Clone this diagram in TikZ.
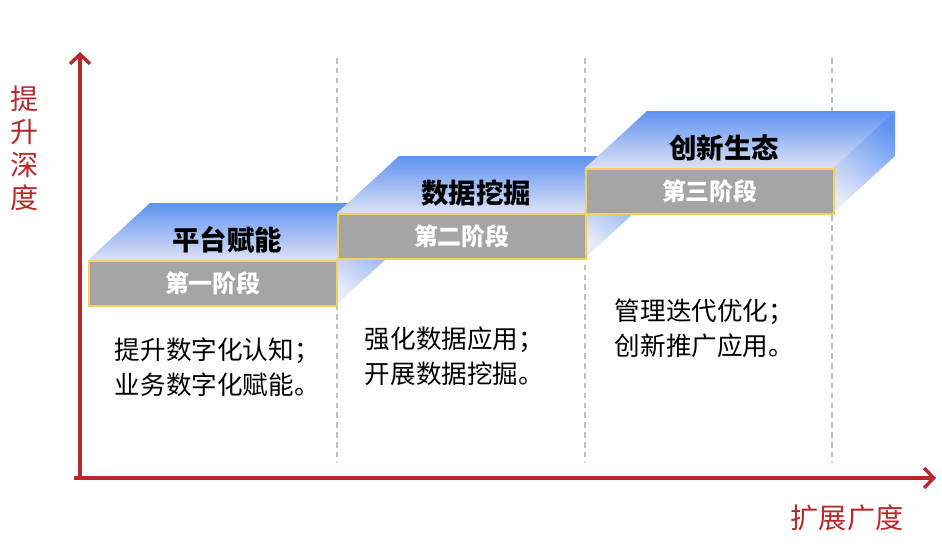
\documentclass[tikz,border=0pt]{standalone}
\usepackage{fontspec}
\setmainfont{Noto Sans CJK SC}
\usetikzlibrary{arrows.meta}
\definecolor{axisred}{HTML}{B8272A}
\definecolor{topblue}{HTML}{5F92F2}
\definecolor{paleblue}{HTML}{DCE2F4}
\definecolor{stagegray}{HTML}{A5A5A5}
\definecolor{stagegold}{HTML}{F1D35A}
\begin{document}
\begin{tikzpicture}[x=0.025cm,y=-0.025cm,
  axis/.style={axisred,line width=2.4pt,-{Straight Barb[length=2.4mm,width=5mm]}},
  guide/.style={black!25,dash pattern=on 4pt off 3pt,line width=1pt},
  stagebox/.style={fill=stagegray,draw=stagegold,line width=1.2pt,anchor=north west,
    minimum width=6.2cm,minimum height=1.12cm,inner sep=0pt,text=white,
    font=\fontsize{17}{20}\selectfont\bfseries},
  title/.style={font=\fontsize{19.5}{22}\selectfont\bfseries},
  body/.style={anchor=west,align=left,font=\fontsize{18.2}{24.8}\selectfont},
  axislabel/.style={text=axisred,font=\fontsize{20}{23.4}\selectfont}]
\useasboundingbox (0,0) rectangle (942,546);
% dashed guides
\foreach \gx in {337,585,832}
  \draw[guide] (\gx,58) -- (\gx,462);
% stairs
\foreach \i/\x/\y/\name/\stage in {1/88/260/平台赋能/第一阶段,2/337/213/数据挖掘/第二阶段,3/585/168/创新生态/第三阶段}{
  \shade[top color=topblue,bottom color=paleblue] (\x,\y) -- ++(62,-57) -- ++(248,0) -- ++(-62,57) -- cycle;
  \shade[top color=topblue,bottom color=paleblue!70,shading angle=-35] (\x+248,\y) -- ++(62,-57) -- ++(0,45) -- ++(-62,57) -- cycle;
  \node[stagebox] (stage\i) at (\x,\y) {\stage};
  \node[title] (title\i) at (\x+139,\y-20) {\name};
}
% texts
\node[body] (text1) at (110,367) {提升数字化认知；\\业务数字化赋能。};
\node[body] (text2) at (360,356) {强化数据应用；\\开展数据挖掘。};
\node[body] (text3) at (610,328) {管理迭代优化；\\创新推广应用。};
% axes
\coordinate (O) at (80,478);
\coordinate (Y) at (80,52);
\coordinate (X) at (936,478);
\draw[axis] (O) -- (Y);
\draw[axis] ([xshift=-4]O) -- (X);
\node[axislabel,align=center] (ylab) at (25,148) {提\\升\\深\\度};
\node[axislabel] (xlab) at (847,518) {扩展广度};
\end{tikzpicture}
\end{document}
